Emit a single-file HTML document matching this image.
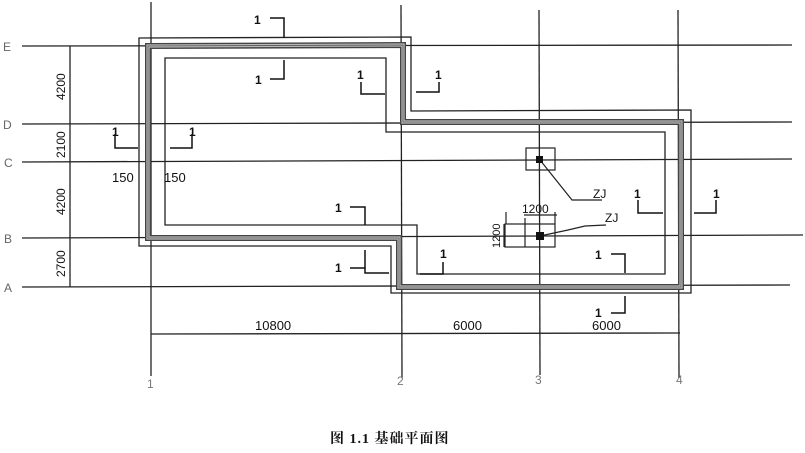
<!DOCTYPE html>
<html><head><meta charset="utf-8"><style>
html,body{margin:0;padding:0;background:#fff;}
svg{display:block;}
text{font-family:"Liberation Sans",sans-serif;fill:#111;}
</style></head><body>
<svg width="805" height="453" viewBox="0 0 805 453" xmlns="http://www.w3.org/2000/svg">
<g stroke="#222" stroke-width="1.3" fill="none">
<line x1="22" y1="46" x2="792" y2="45"/>
<line x1="22" y1="124" x2="792" y2="122"/>
<line x1="22" y1="162" x2="792" y2="159"/>
<line x1="22" y1="238" x2="803" y2="235"/>
<line x1="22" y1="287" x2="790" y2="285"/>
<line x1="151" y1="2" x2="151" y2="376"/>
<line x1="401" y1="5" x2="402" y2="378"/>
<line x1="539" y1="10" x2="540" y2="375"/>
<line x1="678" y1="10" x2="679" y2="378"/>
<line x1="70" y1="46" x2="70" y2="287"/>
<line x1="151" y1="334" x2="680" y2="333"/>
<polygon points="139,38 411,37 411,111 691,110 691,293 391,293 391,246 139,246"/>
<polygon points="165,58 386,58 386,132 665,132 665,274 417,274 417,225 165,225"/>
</g>
<g fill="none" stroke-linejoin="miter">
<polygon points="148,46 403,45 403,122 681,122 681,287 399,287 399,238 148,238" stroke="#444" stroke-width="6"/>
<polygon points="148,46 403,45 403,122 681,122 681,287 399,287 399,238 148,238" stroke="#bbb" stroke-width="3.2"/>
<polygon points="148,46 403,45 403,122 681,122 681,287 399,287 399,238 148,238" stroke="#555" stroke-width="0.8"/>
</g>
<g stroke="#111" stroke-width="1.5" fill="none">
<polyline points="270,18 284,18 284,38"/>
<polyline points="284,60 284,79 270,79"/>
<polyline points="361,82 361,94 385,94"/>
<polyline points="416,92 439,92 439,82"/>
<polyline points="115,134 115,148 138,148"/>
<polyline points="192,134 192,148 170,148"/>
<polyline points="350,207 365,207 365,225"/>
<polyline points="350,268 365,268 365,250"/>
<polyline points="365,268 365,273 389,273"/>
<polyline points="443,262 443,274 420,274"/>
<polyline points="611,254 625,254 625,273"/>
<polyline points="638,200 638,213 663,213"/>
<polyline points="716,200 716,213 694,213"/>
<polyline points="625,296 625,313 611,313"/>
</g>
<g font-size="12" font-weight="bold">
<text x="254" y="24">1</text>
<text x="255" y="84">1</text>
<text x="357" y="79">1</text>
<text x="435" y="79">1</text>
<text x="112" y="136">1</text>
<text x="189" y="136">1</text>
<text x="335" y="212">1</text>
<text x="335" y="272">1</text>
<text x="440" y="258">1</text>
<text x="595" y="259">1</text>
<text x="634" y="198">1</text>
<text x="713" y="198">1</text>
<text x="595" y="317">1</text>
</g>
<g stroke="#222" stroke-width="1.2" fill="none">
<rect x="526" y="148" width="29" height="22"/>
<rect x="505" y="224" width="50" height="23"/>
<line x1="525" y1="218" x2="525" y2="247"/>
<polyline points="540,160 572,200 602,200"/>
<polyline points="540,236 568,230 585,226 606,225"/>
<line x1="524" y1="215" x2="557" y2="215"/>
<line x1="504" y1="224" x2="504" y2="247"/>
<line x1="506" y1="224" x2="506" y2="212"/>
<line x1="555" y1="224" x2="555" y2="212"/>
</g>
<rect x="536" y="156" width="7" height="7" fill="#111"/>
<rect x="536" y="232" width="8" height="8" fill="#111"/>
<g font-size="12">
<text x="593" y="198">ZJ</text>
<text x="605" y="222">ZJ</text>
<text x="522" y="213">1200</text>
<text transform="translate(500,248) rotate(-90)" font-size="11">1200</text>
</g>
<g font-size="13">
<text x="255" y="330">10800</text>
<text x="453" y="330">6000</text>
<text x="592" y="330">6000</text>
<text x="112" y="182">150</text>
<text x="164" y="182">150</text>
<text transform="translate(65,100) rotate(-90)" font-size="12">4200</text>
<text transform="translate(65,158) rotate(-90)" font-size="12">2100</text>
<text transform="translate(65,215) rotate(-90)" font-size="12">4200</text>
<text transform="translate(65,277) rotate(-90)" font-size="12">2700</text>
</g>
<g font-family="Liberation Serif,serif" font-size="12">
<text x="3" y="51" style="fill:#666">E</text>
<text x="3" y="129" style="fill:#666">D</text>
<text x="4" y="167" style="fill:#666">C</text>
<text x="4" y="243" style="fill:#666">B</text>
<text x="4" y="292" style="fill:#666">A</text>
<text x="147" y="388" style="fill:#777">1</text>
<text x="397" y="385" style="fill:#777">2</text>
<text x="535" y="384" style="fill:#777">3</text>
<text x="676" y="384" style="fill:#777">4</text>
</g>
<text x="330" y="443" font-size="14" font-weight="bold" letter-spacing="1" style="font-family:'Liberation Serif','Noto Serif CJK SC',serif">图 1.1 基础平面图</text>
</svg>
</body></html>
